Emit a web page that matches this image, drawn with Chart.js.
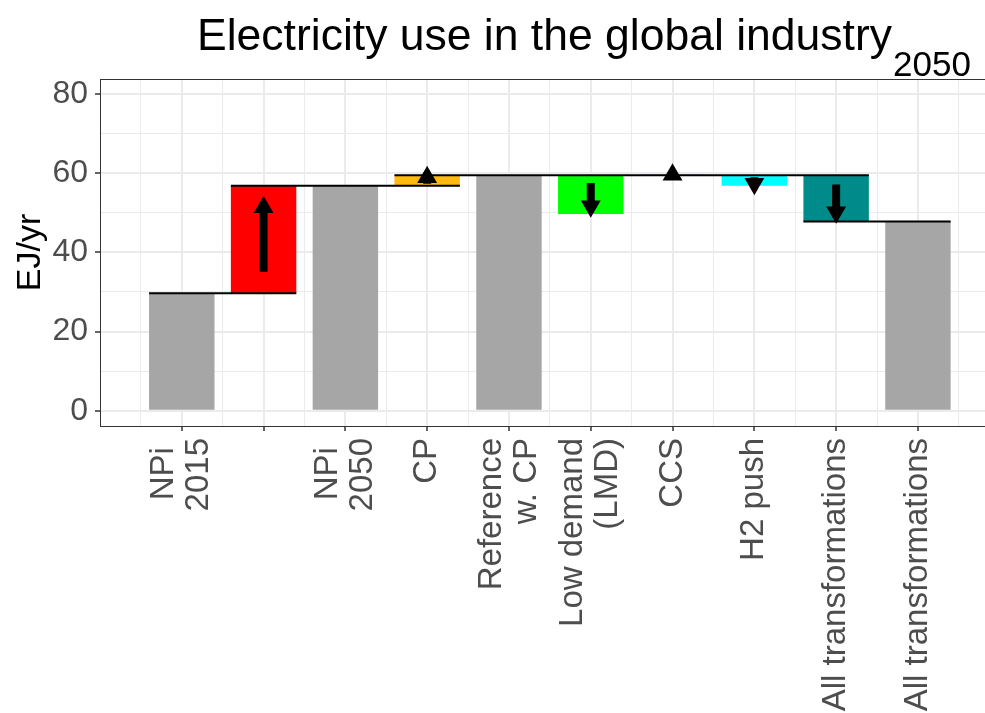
<!DOCTYPE html>
<html>
<head>
<meta charset="utf-8">
<script src="https://cdn.jsdelivr.net/npm/chart.js@4.4.1/dist/chart.umd.min.js"></script>
<style>
  html, body { margin: 0; padding: 0; background: #ffffff; overflow: hidden; }
  #wrap { width: 985px; height: 713px; position: relative; }
</style>
</head>
<body>
<div id="wrap"><canvas id="chart"></canvas></div>
<script>
// Waterfall steps: category labels, bar start/end values (EJ/yr), bar colours
const categories = [['NPi ', '2015'], '', ['NPi ', '2050'], 'CP', ['Reference', 'w. CP'],
                    ['Low demand', '(LMD)'], 'CCS', 'H2 push', 'All transformations', 'All transformations'];
const barStart = [0, 29.7, 0, 56.8, 0, 59.5, 59.5, 59.5, 59.5, 0];
const barEnd   = [29.7, 56.8, 56.8, 59.5, 59.5, 49.7, 59.6, 56.8, 47.8, 47.8];
const barColors = ['#A6A6A6', '#FF0000', '#A6A6A6', '#FFB90F', '#A6A6A6',
                   '#00FF00', '#7B68EE', '#00FFFF', '#008B8B', '#A6A6A6'];
// Level of the connector joining step i and step i+1
const connectorLevels = [29.7, 56.8, 56.8, 59.5, 59.5, 59.5, 59.5, 59.5, 47.8];
const yMajorTicks = [0, 20, 40, 60, 80];
const yMinorTicks = [10, 30, 50, 70];
const titleText = 'Electricity use in the global industry';
const titleSub = '2050';
const yTitle = 'EJ/yr';

const FONT = '"Liberation Sans", Arial, Helvetica, sans-serif';
const BAR_WIDTH = 0.8;
const X_MIN = 0, X_MAX = 10.82;
const Y_MIN = -3.87, Y_MAX = 83.8;
const LABEL_FONT = { family: FONT, size: 33, lineHeight: 1.06 };
const GRID = '#EBEBEB', FRAME = '#333333', TEXT = '#4D4D4D';

// Bars as floating [start, end] ranges
const bars = barStart.map((s, i) => ({ x: i + 1, y: [s, barEnd[i]] }));

// Horizontal connectors between neighbouring bars
const connectors = [];
connectorLevels.forEach((lv, i) => {
  const a = i + 1 - BAR_WIDTH / 2, b = i + 2 + BAR_WIDTH / 2;
  connectors.push({ x: a, y: lv }, { x: b, y: lv }, { x: b, y: null });
});

// Arrows inside the change bars: shaft over the middle of the change, head at its end
const shafts = [], heads = [], headRotation = [];
barStart.forEach((s, i) => {
  if (s === 0) return; // totals start from zero and carry no arrow
  const d = barEnd[i] - s;
  shafts.push({ x: i + 1, y: s + 0.2 * d }, { x: i + 1, y: s + 0.8 * d }, { x: i + 1, y: null });
  heads.push({ x: i + 1, y: s + 0.8 * d });
  headRotation.push(d >= 0 ? 0 : 180);
});

const titlePlugin = {
  id: 'subscriptTitle',
  afterDraw(chart) {
    const ctx = chart.ctx;
    ctx.save();
    ctx.fillStyle = '#000000';
    ctx.textAlign = 'left';
    ctx.textBaseline = 'alphabetic';
    const x0 = 197, base = 50;
    ctx.font = '44.5px ' + FONT;
    ctx.fillText(titleText, x0, base);
    const w = ctx.measureText(titleText).width;
    ctx.font = '35px ' + FONT;
    ctx.fillText(titleSub, x0 + w + 1, base + 26);
    ctx.restore();
  }
};

const isMajorY = c => c && c.tick && yMajorTicks.includes(c.tick.value);

new Chart(document.getElementById('chart'), {
  type: 'bar',
  data: {
    datasets: [
      {
        type: 'line', data: heads, xAxisID: 'x', yAxisID: 'y', order: 0,
        showLine: false, pointStyle: 'triangle', pointRadius: 10, pointHoverRadius: 10,
        pointRotation: headRotation, pointBackgroundColor: '#000000',
        pointBorderColor: '#000000', pointBorderWidth: 1.5
      },
      {
        type: 'line', data: shafts, xAxisID: 'x', yAxisID: 'y', order: 1,
        borderColor: '#000000', borderWidth: 8, borderCapStyle: 'butt',
        pointRadius: 0, pointHoverRadius: 0, spanGaps: false, fill: false
      },
      {
        type: 'line', data: connectors, xAxisID: 'x', yAxisID: 'y', order: 2,
        borderColor: '#000000', borderWidth: 2, borderCapStyle: 'butt',
        pointRadius: 0, pointHoverRadius: 0, spanGaps: false, fill: false
      },
      {
        type: 'bar', data: bars, xAxisID: 'x', yAxisID: 'y', order: 3,
        backgroundColor: barColors, borderWidth: 0,
        barPercentage: BAR_WIDTH, categoryPercentage: 1
      }
    ]
  },
  options: {
    responsive: true,
    maintainAspectRatio: false,
    devicePixelRatio: 1,
    animation: false,
    layout: { autoPadding: false, padding: { top: 79, left: 0, right: 0, bottom: 0 } },
    plugins: { legend: { display: false }, tooltip: { enabled: false }, title: { display: false } },
    scales: {
      x: {
        type: 'linear', position: 'bottom', weight: 0, min: X_MIN, max: X_MAX, offset: false,
        afterBuildTicks: s => { s.ticks = categories.map((c, i) => ({ value: i + 1 })); },
        afterFit: s => { s.height = 5; },
        ticks: { display: false },
        grid: { offset: false, color: GRID, lineWidth: 2, drawTicks: true, tickLength: 5,
                tickColor: FRAME, tickWidth: 1.5 },
        border: { display: true, color: FRAME, width: 1 }
      },
      xMinor: {
        type: 'linear', position: 'top', min: X_MIN, max: X_MAX, offset: false,
        afterBuildTicks: s => {
          s.ticks = categories.concat(['']).map((c, i) => ({ value: i + 0.5 }));
        },
        afterFit: s => { s.height = 0; },
        ticks: { display: false },
        grid: { offset: false, color: GRID, lineWidth: 1, drawTicks: false },
        border: { display: true, color: FRAME, width: 1 }
      },
      xLabels: {
        type: 'linear', position: 'bottom', weight: 1, min: X_MIN, max: X_MAX, offset: false,
        afterBuildTicks: s => {
          // two-line labels are moved half a line left so the pair sits centred on its tick
          const pxPerUnit = s.width / (X_MAX - X_MIN);
          const shift = (LABEL_FONT.size * LABEL_FONT.lineHeight / 2) / pxPerUnit;
          s.ticks = categories.map((c, i) => ({ value: i + 1 - (Array.isArray(c) ? shift : 0) }));
        },
        afterFit: s => { s.height = 282; },
        ticks: {
          autoSkip: false, minRotation: 90, maxRotation: 90, padding: 7,
          font: LABEL_FONT, color: TEXT,
          callback: (v, i) => categories[i]
        },
        grid: { display: false, drawTicks: false },
        border: { display: false }
      },
      y: {
        type: 'linear', position: 'left', min: Y_MIN, max: Y_MAX,
        afterBuildTicks: s => {
          s.ticks = yMajorTicks.concat(yMinorTicks).sort((a, b) => a - b).map(v => ({ value: v }));
        },
        afterFit: s => { s.width = 100; },
        ticks: {
          autoSkip: false, padding: 7, color: TEXT,
          font: { family: FONT, size: 32 },
          callback: v => (yMajorTicks.includes(v) ? String(v) : '')
        },
        grid: {
          color: GRID,
          lineWidth: c => (isMajorY(c) ? 2 : 1),
          drawTicks: true, tickLength: 5, tickWidth: 1.5,
          tickColor: c => (isMajorY(c) ? FRAME : 'rgba(0,0,0,0)')
        },
        border: { display: true, color: FRAME, width: 1 },
        title: {
          display: true, text: yTitle, color: '#000000',
          font: { family: FONT, size: 34 }, padding: { top: 10, bottom: 0 }
        }
      }
    }
  },
  plugins: [titlePlugin]
});
</script>
</body>
</html>
